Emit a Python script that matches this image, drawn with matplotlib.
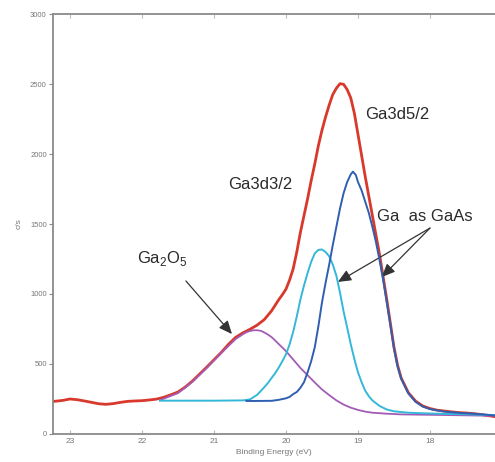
import matplotlib
matplotlib.use("Agg")
import matplotlib.pyplot as plt

# ---- data ----
total_E = [23.24, 23.1, 23.0, 22.9, 22.8, 22.7, 22.6, 22.5, 22.4, 22.3, 22.2, 22.1, 22.0, 21.9, 21.8,
           21.7, 21.6, 21.5, 21.4, 21.3, 21.2, 21.1, 21.0, 20.9, 20.8, 20.7, 20.6, 20.5, 20.4, 20.3,
           20.2, 20.1, 20.05, 20.0, 19.95, 19.9, 19.85, 19.8, 19.75, 19.7, 19.65, 19.6, 19.55, 19.5,
           19.45, 19.4, 19.35, 19.3, 19.25, 19.2, 19.15, 19.1, 19.05, 19.0, 18.95, 18.9,
           18.85, 18.8, 18.75, 18.7, 18.65, 18.6, 18.55, 18.5, 18.45, 18.4, 18.3, 18.2, 18.1, 18.0,
           17.9, 17.8, 17.7, 17.6, 17.5, 17.4, 17.3, 17.2, 17.1]
total_V = [232, 240, 250, 245, 236, 226, 216, 212, 217, 226, 233, 236, 238, 243, 249,
           262, 280, 300, 335, 378, 428, 478, 530, 582, 640, 690, 722, 748, 778, 818,
           880, 960, 995, 1035, 1100, 1180, 1300, 1440, 1560, 1680, 1810, 1930, 2060, 2170,
           2265, 2350, 2425, 2470, 2502, 2498, 2460, 2400, 2290, 2140, 1990, 1840,
           1700, 1560, 1420, 1280, 1120, 960, 790, 620, 490, 400, 295, 235, 200, 182,
           170, 164, 158, 153, 150, 146, 140, 132, 124]

gaas52_E = [20.55, 20.4, 20.2, 20.1, 20.0, 19.95, 19.9, 19.85, 19.8, 19.75, 19.7, 19.65, 19.6,
            19.55, 19.5, 19.45, 19.4, 19.35, 19.3, 19.25, 19.2, 19.15, 19.1, 19.07, 19.03, 19.0,
            18.95, 18.9, 18.85, 18.8, 18.75, 18.7, 18.65, 18.6, 18.55, 18.5, 18.45, 18.4, 18.3,
            18.2, 18.1, 18.0, 17.8, 17.6, 17.4, 17.2, 17.1]
gaas52_V = [236, 236, 237, 244, 255, 265, 285, 300, 330, 370, 440, 520, 620,
            770, 940, 1080, 1210, 1350, 1480, 1610, 1720, 1800, 1855, 1874, 1850, 1800,
            1740, 1660, 1580, 1480, 1370, 1240, 1100, 940, 780, 610, 485, 395, 290,
            230, 196, 178, 160, 151, 145, 137, 132]

gaas32_E = [21.75, 21.0, 20.6, 20.5, 20.4, 20.3, 20.25, 20.2, 20.15, 20.1, 20.05, 20.0, 19.95,
            19.9, 19.85, 19.8, 19.75, 19.7, 19.65, 19.6, 19.55, 19.5, 19.45, 19.4, 19.35, 19.3,
            19.25, 19.2, 19.15, 19.1, 19.05, 19.0, 18.95, 18.9, 18.85, 18.8, 18.7, 18.6, 18.5,
            18.3, 18.1, 17.9, 17.6, 17.3, 17.1]
gaas32_V = [238, 238, 240, 247, 280, 335, 365, 400, 435, 475, 520, 570, 640,
            730, 840, 960, 1060, 1150, 1230, 1290, 1315, 1318, 1300, 1270, 1210, 1130,
            1010, 875, 760, 640, 535, 440, 370, 310, 270, 240, 200, 175, 162,
            152, 148, 145, 142, 138, 135]

oxide_E = [21.75, 21.7, 21.5, 21.3, 21.1, 20.9, 20.7, 20.6, 20.55, 20.5, 20.45, 20.4, 20.35,
           20.3, 20.25, 20.2, 20.15, 20.1, 20.0, 19.9, 19.8, 19.7, 19.6, 19.5, 19.4, 19.3, 19.2,
           19.1, 19.0, 18.9, 18.8, 18.6, 18.4, 18.0, 17.6, 17.1]
oxide_V = [240, 252, 292, 372, 472, 578, 678, 712, 727, 736, 741, 741, 737,
           725, 710, 692, 668, 642, 592, 532, 472, 420, 368, 318, 278, 240, 210,
           188, 172, 160, 152, 145, 140, 137, 134, 130]

x_ticks = [23, 22, 21, 20, 19, 18]
y_ticks = [0, 500, 1000, 1500, 2000, 2500, 3000]

# ---- figure ----
plt.rcParams['font.family'] = ['Liberation Sans', 'DejaVu Sans']
fig = plt.figure(figsize=(4.95, 4.62), dpi=100)
ax = fig.add_axes([53 / 495, 28 / 462, 442 / 495, 420 / 462])

c_red = '#d8392c'
c_cyan = '#35b7d9'
c_blue = '#2f5fb0'
c_purple = '#a35cb5'

ax.plot(total_E, total_V, color=c_red, lw=2.0, zorder=2, solid_joinstyle='round')
ax.plot(oxide_E, oxide_V, color=c_purple, lw=1.3, zorder=3, solid_joinstyle='round')
ax.plot(gaas32_E, gaas32_V, color=c_cyan, lw=1.4, zorder=4, solid_joinstyle='round')
ax.plot(gaas52_E, gaas52_V, color=c_blue, lw=1.4, zorder=5, solid_joinstyle='round')

ax.set_xlim(23.236, 17.097)
ax.set_ylim(0, 3000)
ax.set_xticks(x_ticks)
ax.set_yticks(y_ticks)

gray = '#8a8a8a'
for s in ['left', 'bottom', 'top']:
    ax.spines[s].set_color(gray)
    ax.spines[s].set_linewidth(1.3)
ax.spines['right'].set_visible(False)
ax.tick_params(axis='x', direction='in', top=True, length=3, width=0.8, color='#bbbbbb',
               labelsize=6, labelcolor='#777777', pad=3)
ax.tick_params(axis='y', direction='out', length=3, width=0.8, color=gray,
               labelsize=5.5, labelcolor='#777777', pad=1.5)

ax.set_xlabel('Binding Energy (eV)', fontsize=6, color='#777777', labelpad=3)
ax.set_ylabel('c/s', fontsize=6, color='#777777', labelpad=5)

tc = '#2a2a2a'
fs = 12
ax.text(18.90, 2279, 'Ga3d5/2', fontsize=fs, color=tc, ha='left', va='center')
ax.text(20.81, 1779, 'Ga3d3/2', fontsize=fs, color=tc, ha='left', va='center')
ax.text(18.74, 1557, 'Ga  as GaAs', fontsize=fs, color=tc, ha='left', va='center')
ax.text(22.07, 1257, r'Ga$_\mathregular{2}$O$_\mathregular{5}$', fontsize=fs, color=tc,
        ha='left', va='center')

ap = dict(arrowstyle='-|>,head_length=0.8,head_width=0.35', color='#333333', lw=0.9,
          shrinkA=0, shrinkB=0)
ax.annotate('', xy=(20.75, 714), xytext=(21.39, 1093), arrowprops=ap)
ax.annotate('', xy=(19.28, 1086), xytext=(18.00, 1471), arrowprops=ap)
ax.annotate('', xy=(18.67, 1121), xytext=(18.00, 1471), arrowprops=ap)

fig.savefig('out.png', dpi=100)
